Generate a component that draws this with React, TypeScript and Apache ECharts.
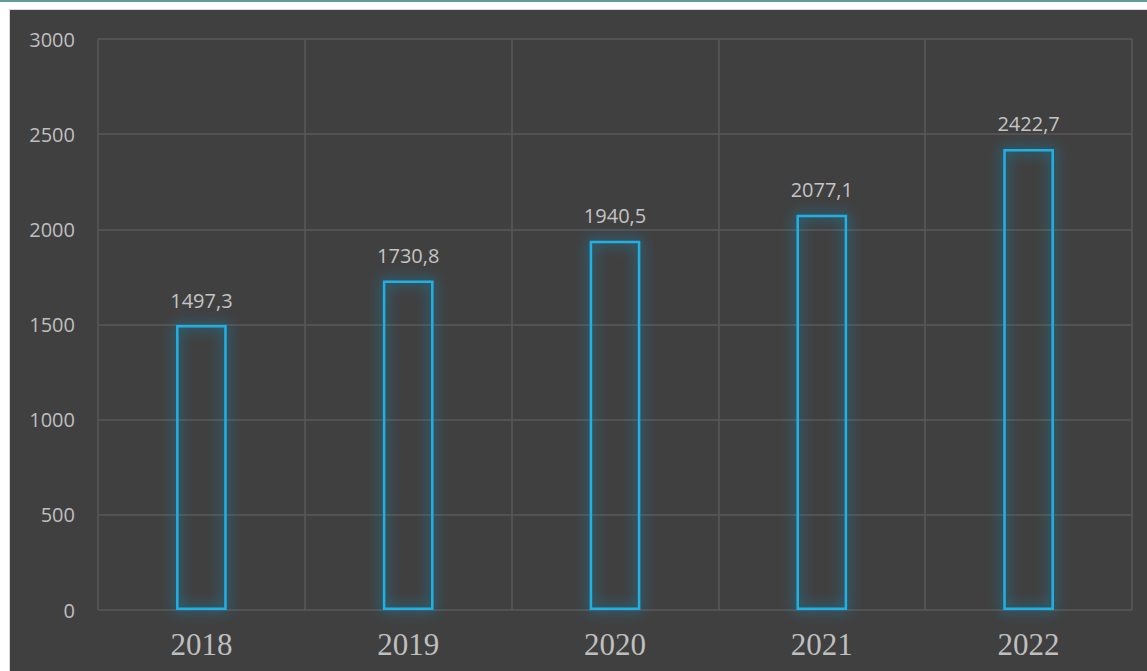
import React, { useEffect, useRef } from "react";
import * as echarts from "echarts";

const categories = ["2018", "2019", "2020", "2021", "2022"];
const values = [1497.3, 1730.8, 1940.5, 2077.1, 2422.7];
const yTicks = [0, 500, 1000, 1500, 2000, 2500, 3000];

export default function App() {
  const ref = useRef<HTMLDivElement>(null);
  useEffect(() => {
    const chart = echarts.init(ref.current!, undefined, { renderer: "svg" });
    chart.setOption({
      animation: false,
      backgroundColor: "#ffffff",
      graphic: [
        { type: "rect", z: -10, shape: { x: 0, y: 0, width: 1147, height: 2 }, style: { fill: "#5f9e98" } },
        { type: "rect", z: -10, shape: { x: 9, y: 9, width: 1138, height: 662 }, style: { fill: "#d9d9d9" } },
        { type: "rect", z: -9, shape: { x: 10, y: 10, width: 1137, height: 661 }, style: { fill: "#404040" } },
      ],
      grid: { left: 98, right: 15, top: 39, bottom: 61, containLabel: false },
      xAxis: {
        type: "category",
        data: categories,
        axisLine: { show: false },
        axisTick: { show: false },
        splitLine: { show: true, lineStyle: { color: "#595959", width: 1.5 } },
        axisLabel: {
          color: "#bfbfbf",
          fontFamily: "Liberation Serif",
          fontSize: 31,
          margin: 19,
        },
      },
      yAxis: {
        type: "value",
        min: yTicks[0],
        max: yTicks[yTicks.length - 1],
        interval: 500,
        axisLine: { show: false },
        axisTick: { show: false },
        splitLine: { show: true, lineStyle: { color: "#595959", width: 1.5 } },
        axisLabel: {
          color: "#bfbfbf",
          fontFamily: "Open Sans",
          fontSize: 20,
          margin: 23,
          formatter: (v: number) => String(v),
        },
      },
      series: [
        {
          type: "bar",
          data: values,
          barWidth: "24.5%",
          itemStyle: {
            color: "rgba(64,64,64,0)",
            borderColor: "#1fb2e8",
            borderWidth: 2.5,
            shadowBlur: 14,
            shadowColor: "rgba(20,170,230,1)",
          },
          label: {
            show: true,
            position: "top",
            distance: 15,
            color: "#c4c4c4",
            fontFamily: "Open Sans",
            fontSize: 20,
            formatter: (p: any) => p.value.toFixed(1).replace(".", ","),
          },
        },
      ],
    });
    return () => chart.dispose();
  }, []);
  return (
    <div style={{ position: "absolute", left: 0, top: 0, width: 1147, height: 671 }}>
      <div ref={ref} style={{ width: 1147, height: 671 }} />
    </div>
  );
}
